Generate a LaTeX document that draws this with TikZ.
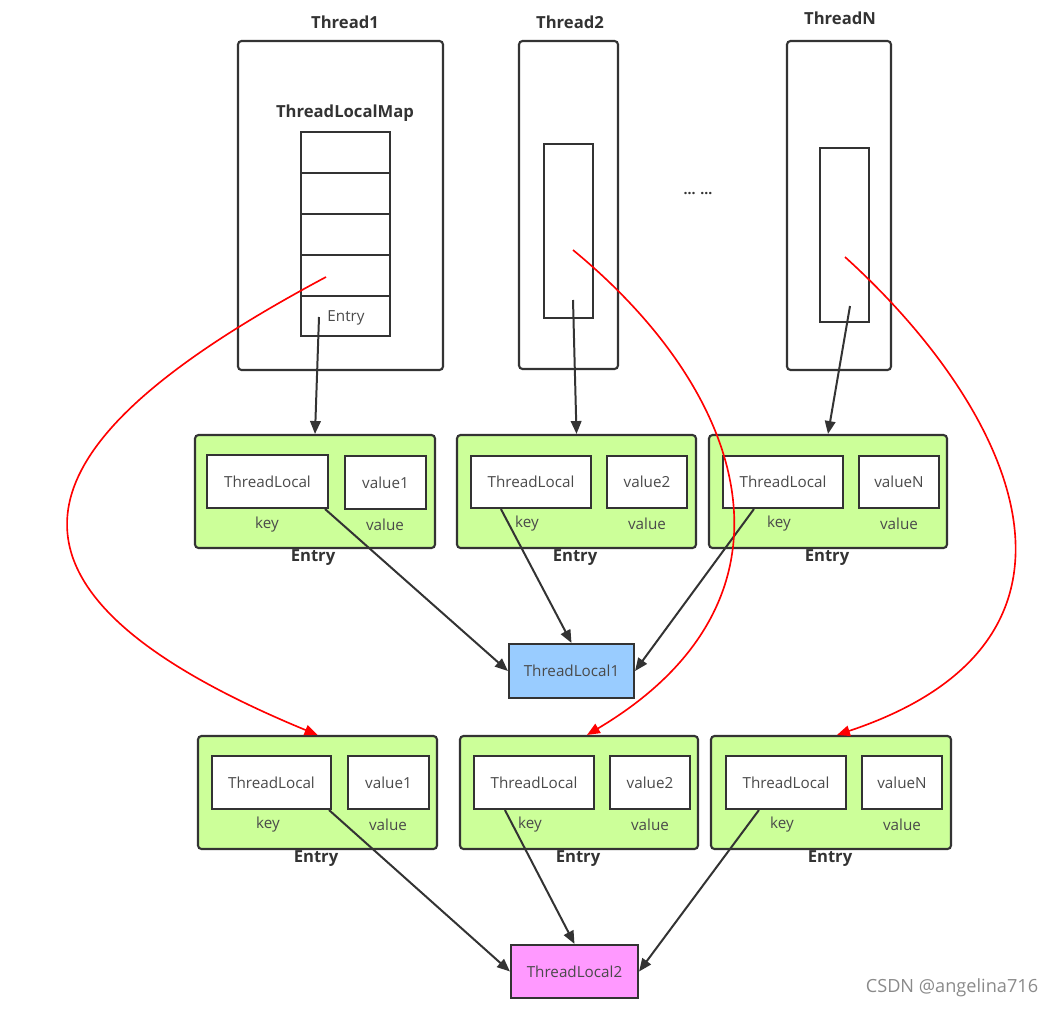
\documentclass[tikz,border=0pt]{standalone}
\usepackage{fontspec}
\setmainfont{Open Sans}
\usetikzlibrary{arrows.meta,fit,calc}
\definecolor{dk}{HTML}{333333}
\definecolor{txt}{HTML}{4A4A4A}
\definecolor{lgreen}{HTML}{CCFF99}
\definecolor{lblue}{HTML}{99CCFF}
\definecolor{lpink}{HTML}{FF99FF}
\definecolor{wm}{HTML}{8A8A8A}
\tikzset{
  threadbox/.style={draw=dk, line width=1.8pt, rounded corners=3pt, inner sep=0pt},
  cellbox/.style={draw=dk, line width=1.8pt, inner sep=0pt},
  entrybox/.style={draw=dk, fill=lgreen, line width=1.8pt, rounded corners=3pt, inner sep=0pt},
  keybox/.style={draw=dk, fill=white, line width=1.8pt, inner sep=0pt},
  tlbox/.style={draw=dk, line width=1.8pt, inner sep=0pt},
  small/.style={text=txt, font=\fontsize{13}{15}\selectfont, inner sep=0pt},
  bold/.style={text=dk, font=\fontsize{14.2}{16}\selectfont\bfseries, inner sep=0pt},
  arr/.style={draw=dk, line width=1.7pt, -{Triangle[length=11pt,width=9pt]}},
  redarr/.style={draw=red, line width=1.4pt, -{Triangle[length=11pt,width=9pt]}}
}
\begin{document}
\begin{tikzpicture}[x=0.03cm,y=-0.03cm]
\useasboundingbox (0,0) rectangle (1058,1010);
% Threads
\node[bold] (t1l) at (345,22) {Thread1};
\node[threadbox, fit={(238,41) (443,370)}] (t1) {};
\node[bold] (tlm) at (345,113) {ThreadLocalMap};
\node[cellbox, fit={(301,132) (390,173)}] (c1) {};
\node[cellbox, fit={(301,173) (390,214)}] (c2) {};
\node[cellbox, fit={(301,214) (390,255)}] (c3) {};
\node[cellbox, fit={(301,255) (390,296)}] (c4) {};
\node[cellbox, fit={(301,296) (390,336)}] (c5) {};
\node[small] (c5t) at (346,318) {Entry};
\node[bold] (t2l) at (570,22) {Thread2};
\node[threadbox, fit={(519,41) (618,369)}] (t2) {};
\node[cellbox, fit={(544,144) (593,318)}] (t2i) {};
\node[bold] (tnl) at (840,18) {ThreadN};
\node[threadbox, fit={(787,41) (891,370)}] (tn) {};
\node[cellbox, fit={(820,148) (869,322)}] (tni) {};
\node[text=dk, font=\fontsize{12}{14}\selectfont\bfseries, inner sep=0pt] (dots) at (698,194) {... ...};
% Entries row 1
\node[entrybox, fit={(195,435) (435,548)}] (e1) {};
\node[keybox, fit={(207,455) (328,508)}] (e1k) {};
\node[small] (e1kt) at (e1k) {ThreadLocal};
\node[keybox, fit={(345,456) (426,509)}] (e1v) {};
\node[small] (e1vt) at (e1v) {value1};
\node[small] (e1kl) at (267,525) {key};
\node[small] (e1vl) at (385,525) {value};
\node[bold] (e1l) at (313,558) {Entry};
\node[entrybox, fit={(457,435) (696,548)}] (e2) {};
\node[keybox, fit={(471,456) (591,508)}] (e2k) {};
\node[small] (e2kt) at (e2k) {ThreadLocal};
\node[keybox, fit={(607,456) (687,508)}] (e2v) {};
\node[small] (e2vt) at (e2v) {value2};
\node[small] (e2kl) at (527,524) {key};
\node[small] (e2vl) at (647,524) {value};
\node[bold] (e2l) at (575,558) {Entry};
\node[entrybox, fit={(709,435) (947,548)}] (en) {};
\node[keybox, fit={(723,456) (843,508)}] (enk) {};
\node[small] (enkt) at (enk) {ThreadLocal};
\node[keybox, fit={(859,456) (939,508)}] (env) {};
\node[small] (envt) at (env) {valueN};
\node[small] (enkl) at (779,524) {key};
\node[small] (envl) at (899,524) {value};
\node[bold] (enl) at (827,558) {Entry};
% ThreadLocal1
\node[tlbox, fill=lblue, fit={(509,644) (634,698)}] (tl1) {};
\node[small] (tl1t) at (tl1) {ThreadLocal1};
% Entries row 2
\node[entrybox, fit={(198,736) (437,849)}] (f1) {};
\node[keybox, fit={(212,756) (331,809)}] (f1k) {};
\node[small] (f1kt) at (f1k) {ThreadLocal};
\node[keybox, fit={(348,756) (429,809)}] (f1v) {};
\node[small] (f1vt) at (f1v) {value1};
\node[small] (f1kl) at (268,825) {key};
\node[small] (f1vl) at (388,825) {value};
\node[bold] (f1l) at (316,859) {Entry};
\node[entrybox, fit={(460,736) (698,849)}] (f2) {};
\node[keybox, fit={(474,756) (594,809)}] (f2k) {};
\node[small] (f2kt) at (f2k) {ThreadLocal};
\node[keybox, fit={(610,756) (690,809)}] (f2v) {};
\node[small] (f2vt) at (f2v) {value2};
\node[small] (f2kl) at (530,825) {key};
\node[small] (f2vl) at (650,825) {value};
\node[bold] (f2l) at (578,859) {Entry};
\node[entrybox, fit={(711,736) (951,849)}] (fn) {};
\node[keybox, fit={(726,756) (846,809)}] (fnk) {};
\node[small] (fnkt) at (fnk) {ThreadLocal};
\node[keybox, fit={(862,756) (942,809)}] (fnv) {};
\node[small] (fnvt) at (fnv) {valueN};
\node[small] (fnkl) at (782,825) {key};
\node[small] (fnvl) at (902,825) {value};
\node[bold] (fnl) at (830,859) {Entry};
% ThreadLocal2
\node[tlbox, fill=lpink, fit={(511,945) (638,998)}] (tl2) {};
\node[small] (tl2t) at (tl2) {ThreadLocal2};
% watermark
\node[text=wm, font=\fontsize{15.5}{18}\selectfont, inner sep=0pt] (wmk) at (952,988) {CSDN @angelina716};
% start coordinates
\coordinate (s1) at (319,317);
\coordinate (s2) at (573,300);
\coordinate (s3) at (850,306);
\coordinate (r1) at (326,277);
\coordinate (r2) at (573,250);
\coordinate (r3) at (845,257);
% dark arrows
\draw[arr] (s1) -- (e1.north);
\draw[arr] (s2) -- (e2.north);
\draw[arr] (s3) -- (en.north);
\draw[arr] ($(e1k.south east)+(-4,0)$) -- (tl1.west);
\draw[arr] ($(e2k.south west)+(31,0)$) -- (tl1.north);
\draw[arr] ($(enk.south west)+(32,0)$) -- (tl1.east);
\draw[arr] ($(f1k.south east)+(-3,0)$) -- (tl2.west);
\draw[arr] ($(f2k.south west)+(32,0)$) -- (tl2.north);
\draw[arr] ($(fnk.south west)+(34,0)$) -- (tl2.east);
% red curves
\draw[redarr] (r1) .. controls (45,427) and (-70,575) .. (f1.north);
\draw[redarr] (r2) .. controls (755,400) and (809,603) .. ($(f2.north)+(8,0)$);
\draw[redarr] (r3) .. controls (1015,411) and (1122,640) .. ($(fn.north)+(6,0)$);
\end{tikzpicture}
\end{document}
